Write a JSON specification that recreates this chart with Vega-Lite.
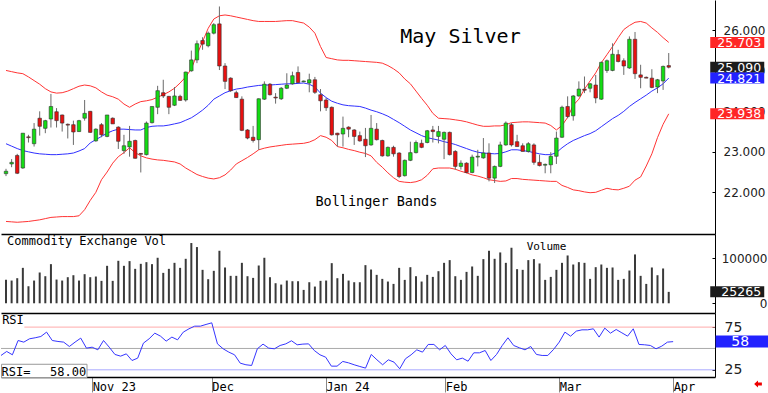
{
 "$schema": "https://vega.github.io/schema/vega-lite/v6.json",
 "padding": 0,
 "spacing": 0,
 "background": "white",
 "config": {"view": {"stroke": null}, "text": {"font": "DejaVu Sans Mono"}, "tick": {"opacity": 1}, "axis": {"labelFont": "DejaVu Sans", "grid": false, "title": null, "labelOverlap": false, "zindex": 0}},
 "datasets": {
  "d": [
{"i":0,"o":22.46,"h":22.58,"l":22.40,"c":22.52,"up":25.01,"mid":23.20,"lo":21.28,"vol":52000,"rsi":41.8},
{"i":1,"o":22.70,"h":22.82,"l":22.62,"c":22.74,"up":24.98,"mid":23.14,"lo":21.27,"vol":50300,"rsi":46.5},
{"i":2,"o":22.91,"h":22.95,"l":22.45,"c":22.47,"up":24.95,"mid":23.08,"lo":21.26,"vol":55500,"rsi":42.6},
{"i":3,"o":22.60,"h":23.46,"l":22.58,"c":23.46,"up":24.93,"mid":23.03,"lo":21.27,"vol":78400,"rsi":59.3},
{"i":4,"o":23.37,"h":23.42,"l":23.23,"c":23.35,"up":24.85,"mid":23.00,"lo":21.28,"vol":37700,"rsi":57.4},
{"i":5,"o":23.20,"h":23.71,"l":23.13,"c":23.56,"up":24.76,"mid":22.97,"lo":21.30,"vol":50300,"rsi":61.3},
{"i":6,"o":23.83,"h":24.00,"l":23.40,"c":23.63,"up":24.67,"mid":22.95,"lo":21.32,"vol":68100,"rsi":62.5},
{"i":7,"o":23.58,"h":23.79,"l":23.46,"c":23.77,"up":24.56,"mid":22.94,"lo":21.35,"vol":59900,"rsi":64.0},
{"i":8,"o":23.81,"h":24.43,"l":23.60,"c":24.12,"up":24.48,"mid":22.93,"lo":21.38,"vol":86600,"rsi":69.1},
{"i":9,"o":23.99,"h":24.08,"l":23.60,"c":23.77,"up":24.45,"mid":22.93,"lo":21.39,"vol":52500,"rsi":59.3},
{"i":10,"o":23.91,"h":23.92,"l":23.50,"c":23.71,"up":24.46,"mid":22.94,"lo":21.40,"vol":50300,"rsi":58.2},
{"i":11,"o":23.68,"h":23.70,"l":23.33,"c":23.66,"up":24.50,"mid":22.95,"lo":21.40,"vol":57700,"rsi":57.4},
{"i":12,"o":23.67,"h":23.77,"l":23.17,"c":23.49,"up":24.56,"mid":22.97,"lo":21.40,"vol":62100,"rsi":52.3},
{"i":13,"o":23.50,"h":23.79,"l":23.49,"c":23.77,"up":24.62,"mid":23.02,"lo":21.42,"vol":50300,"rsi":57.4},
{"i":14,"o":23.83,"h":24.28,"l":23.77,"c":23.95,"up":24.65,"mid":23.08,"lo":21.57,"vol":64400,"rsi":62.1},
{"i":15,"o":24.00,"h":24.01,"l":23.47,"c":23.48,"up":24.63,"mid":23.22,"lo":21.80,"vol":57700,"rsi":50.4},
{"i":16,"o":23.27,"h":23.58,"l":23.25,"c":23.56,"up":24.58,"mid":23.30,"lo":22.00,"vol":59200,"rsi":51.5},
{"i":17,"o":23.67,"h":23.71,"l":23.36,"c":23.42,"up":24.48,"mid":23.38,"lo":22.31,"vol":49600,"rsi":48.4},
{"i":18,"o":23.38,"h":23.91,"l":23.36,"c":23.91,"up":24.40,"mid":23.46,"lo":22.50,"vol":82900,"rsi":59.3},
{"i":19,"o":23.83,"h":23.85,"l":23.69,"c":23.69,"up":24.36,"mid":23.52,"lo":22.72,"vol":49600,"rsi":51.5},
{"i":20,"o":23.61,"h":23.63,"l":23.07,"c":23.26,"up":24.30,"mid":23.56,"lo":22.88,"vol":94000,"rsi":43.0},
{"i":21,"o":23.03,"h":23.42,"l":22.95,"c":23.15,"up":24.18,"mid":23.56,"lo":22.98,"vol":82900,"rsi":41.0},
{"i":22,"o":23.12,"h":23.64,"l":22.88,"c":23.26,"up":24.10,"mid":23.55,"lo":23.10,"vol":93300,"rsi":43.7},
{"i":23,"o":23.28,"h":23.30,"l":22.83,"c":22.84,"up":24.18,"mid":23.54,"lo":22.98,"vol":76200,"rsi":35.9},
{"i":24,"o":22.96,"h":22.97,"l":22.49,"c":22.94,"up":24.24,"mid":23.54,"lo":22.90,"vol":87300,"rsi":38.7},
{"i":25,"o":22.93,"h":23.75,"l":22.91,"c":23.71,"up":24.26,"mid":23.60,"lo":22.85,"vol":91000,"rsi":56.2},
{"i":26,"o":23.72,"h":24.12,"l":23.70,"c":24.12,"up":24.29,"mid":23.63,"lo":22.82,"vol":86600,"rsi":61.3},
{"i":27,"o":24.10,"h":24.63,"l":23.93,"c":24.51,"up":24.35,"mid":23.64,"lo":22.80,"vol":100700,"rsi":67.9},
{"i":28,"o":24.46,"h":24.78,"l":24.33,"c":24.38,"up":24.41,"mid":23.64,"lo":22.79,"vol":67300,"rsi":64.4},
{"i":29,"o":24.37,"h":24.38,"l":23.93,"c":24.10,"up":24.48,"mid":23.66,"lo":22.77,"vol":76200,"rsi":58.6},
{"i":30,"o":24.15,"h":24.60,"l":24.13,"c":24.38,"up":24.57,"mid":23.69,"lo":22.75,"vol":89500,"rsi":63.3},
{"i":31,"o":24.37,"h":24.41,"l":24.26,"c":24.27,"up":24.70,"mid":23.72,"lo":22.70,"vol":78400,"rsi":60.1},
{"i":32,"o":24.28,"h":24.98,"l":24.24,"c":24.97,"up":24.85,"mid":23.78,"lo":22.60,"vol":98400,"rsi":69.1},
{"i":33,"o":25.00,"h":25.50,"l":24.98,"c":25.27,"up":25.05,"mid":23.84,"lo":22.52,"vol":133300,"rsi":73.0},
{"i":34,"o":25.27,"h":25.75,"l":25.19,"c":25.67,"up":25.40,"mid":23.93,"lo":22.44,"vol":124400,"rsi":76.1},
{"i":35,"o":25.75,"h":25.83,"l":25.52,"c":25.66,"up":25.72,"mid":24.03,"lo":22.39,"vol":74000,"rsi":76.1},
{"i":36,"o":25.62,"h":25.97,"l":25.58,"c":25.93,"up":26.05,"mid":24.15,"lo":22.35,"vol":53300,"rsi":78.1},
{"i":37,"o":25.93,"h":26.18,"l":25.90,"c":26.14,"up":26.28,"mid":24.30,"lo":22.33,"vol":71800,"rsi":80.0},
{"i":38,"o":26.16,"h":26.59,"l":25.02,"c":25.12,"up":26.36,"mid":24.38,"lo":22.36,"vol":116200,"rsi":55.4},
{"i":39,"o":25.12,"h":25.19,"l":24.55,"c":24.74,"up":26.38,"mid":24.46,"lo":22.43,"vol":79200,"rsi":49.6},
{"i":40,"o":24.82,"h":24.84,"l":24.48,"c":24.51,"up":26.36,"mid":24.51,"lo":22.55,"vol":60700,"rsi":45.7},
{"i":41,"o":24.46,"h":24.51,"l":24.33,"c":24.34,"up":26.33,"mid":24.55,"lo":22.70,"vol":60700,"rsi":42.6},
{"i":42,"o":24.30,"h":24.37,"l":23.51,"c":23.53,"up":26.30,"mid":24.57,"lo":22.78,"vol":89500,"rsi":32.8},
{"i":43,"o":23.54,"h":23.56,"l":23.31,"c":23.34,"up":26.27,"mid":24.60,"lo":22.86,"vol":59900,"rsi":30.9},
{"i":44,"o":23.36,"h":23.64,"l":23.23,"c":23.28,"up":26.24,"mid":24.62,"lo":22.95,"vol":56200,"rsi":30.1},
{"i":45,"o":23.30,"h":24.32,"l":23.05,"c":24.31,"up":26.22,"mid":24.64,"lo":23.05,"vol":83600,"rsi":49.6},
{"i":46,"o":24.30,"h":24.74,"l":24.28,"c":24.67,"up":26.22,"mid":24.65,"lo":23.09,"vol":100700,"rsi":55.1},
{"i":47,"o":24.67,"h":24.70,"l":24.39,"c":24.41,"up":26.22,"mid":24.65,"lo":23.12,"vol":57700,"rsi":50.4},
{"i":48,"o":24.35,"h":24.45,"l":24.19,"c":24.33,"up":26.22,"mid":24.66,"lo":23.14,"vol":44400,"rsi":49.6},
{"i":49,"o":24.31,"h":24.60,"l":24.28,"c":24.57,"up":26.23,"mid":24.67,"lo":23.16,"vol":41400,"rsi":53.5},
{"i":50,"o":24.57,"h":24.94,"l":24.55,"c":24.65,"up":26.24,"mid":24.68,"lo":23.18,"vol":50300,"rsi":55.4},
{"i":51,"o":24.68,"h":24.98,"l":24.66,"c":24.88,"up":26.24,"mid":24.68,"lo":23.19,"vol":48800,"rsi":59.0},
{"i":52,"o":24.96,"h":25.11,"l":24.70,"c":24.71,"up":26.21,"mid":24.69,"lo":23.20,"vol":48800,"rsi":54.3},
{"i":53,"o":24.73,"h":24.76,"l":24.72,"c":24.75,"up":26.18,"mid":24.70,"lo":23.21,"vol":29600,"rsi":55.1},
{"i":54,"o":24.70,"h":24.93,"l":24.47,"c":24.78,"up":26.08,"mid":24.67,"lo":23.24,"vol":46600,"rsi":55.4},
{"i":55,"o":24.78,"h":24.85,"l":24.43,"c":24.47,"up":25.93,"mid":24.60,"lo":23.30,"vol":37000,"rsi":47.6},
{"i":56,"o":24.41,"h":24.55,"l":24.00,"c":24.26,"up":25.60,"mid":24.45,"lo":23.40,"vol":49600,"rsi":42.6},
{"i":57,"o":24.28,"h":24.33,"l":24.01,"c":24.09,"up":25.33,"mid":24.34,"lo":23.36,"vol":50300,"rsi":39.8},
{"i":58,"o":24.10,"h":24.12,"l":23.40,"c":23.42,"up":25.30,"mid":24.25,"lo":23.28,"vol":88800,"rsi":29.3},
{"i":59,"o":23.46,"h":23.47,"l":23.13,"c":23.42,"up":25.27,"mid":24.20,"lo":23.13,"vol":55500,"rsi":29.3},
{"i":60,"o":23.44,"h":23.87,"l":23.13,"c":23.58,"up":25.26,"mid":24.16,"lo":23.10,"vol":65100,"rsi":34.8},
{"i":61,"o":23.61,"h":23.63,"l":23.36,"c":23.56,"up":25.26,"mid":24.14,"lo":23.06,"vol":50300,"rsi":33.2},
{"i":62,"o":23.54,"h":23.56,"l":23.17,"c":23.38,"up":25.25,"mid":24.13,"lo":23.03,"vol":46600,"rsi":30.9},
{"i":63,"o":23.40,"h":23.50,"l":23.25,"c":23.27,"up":25.24,"mid":24.12,"lo":22.99,"vol":46600,"rsi":28.9},
{"i":64,"o":23.31,"h":23.59,"l":22.87,"c":23.15,"up":25.23,"mid":24.08,"lo":22.96,"vol":84400,"rsi":27.0},
{"i":65,"o":23.17,"h":23.91,"l":23.15,"c":23.58,"up":25.22,"mid":24.03,"lo":22.90,"vol":74700,"rsi":43.0},
{"i":66,"o":23.56,"h":23.71,"l":23.28,"c":23.30,"up":25.21,"mid":23.99,"lo":22.74,"vol":62900,"rsi":36.7},
{"i":67,"o":23.28,"h":23.30,"l":22.88,"c":22.90,"up":25.19,"mid":23.94,"lo":22.62,"vol":54000,"rsi":30.9},
{"i":68,"o":22.90,"h":23.13,"l":22.88,"c":23.11,"up":25.13,"mid":23.88,"lo":22.48,"vol":48100,"rsi":36.7},
{"i":69,"o":23.11,"h":23.15,"l":22.88,"c":22.95,"up":25.05,"mid":23.80,"lo":22.36,"vol":42900,"rsi":34.0},
{"i":70,"o":22.97,"h":22.99,"l":22.35,"c":22.39,"up":24.95,"mid":23.72,"lo":22.27,"vol":78400,"rsi":26.2},
{"i":71,"o":22.41,"h":22.81,"l":22.39,"c":22.79,"up":24.80,"mid":23.63,"lo":22.25,"vol":51800,"rsi":37.9},
{"i":72,"o":22.79,"h":23.25,"l":22.77,"c":22.98,"up":24.68,"mid":23.54,"lo":22.24,"vol":79900,"rsi":42.6},
{"i":73,"o":22.98,"h":23.28,"l":22.96,"c":23.23,"up":24.50,"mid":23.47,"lo":22.26,"vol":59900,"rsi":48.4},
{"i":74,"o":23.21,"h":23.30,"l":23.09,"c":23.11,"up":24.32,"mid":23.40,"lo":22.31,"vol":48100,"rsi":45.7},
{"i":75,"o":23.23,"h":23.54,"l":23.21,"c":23.52,"up":24.15,"mid":23.35,"lo":22.42,"vol":62900,"rsi":54.7},
{"i":76,"o":23.54,"h":23.64,"l":23.23,"c":23.50,"up":23.95,"mid":23.32,"lo":22.58,"vol":58400,"rsi":54.7},
{"i":77,"o":23.38,"h":23.64,"l":23.21,"c":23.50,"up":23.83,"mid":23.29,"lo":22.60,"vol":71000,"rsi":48.4},
{"i":78,"o":23.31,"h":23.50,"l":22.82,"c":23.48,"up":23.82,"mid":23.25,"lo":22.60,"vol":89500,"rsi":53.5},
{"i":79,"o":23.48,"h":23.50,"l":22.91,"c":22.93,"up":23.81,"mid":23.22,"lo":22.60,"vol":95500,"rsi":43.7},
{"i":80,"o":23.01,"h":23.04,"l":22.56,"c":22.64,"up":23.79,"mid":23.18,"lo":22.57,"vol":59900,"rsi":36.7},
{"i":81,"o":22.64,"h":22.79,"l":22.56,"c":22.72,"up":23.77,"mid":23.13,"lo":22.52,"vol":51800,"rsi":38.7},
{"i":82,"o":22.72,"h":22.74,"l":22.47,"c":22.49,"up":23.74,"mid":23.08,"lo":22.48,"vol":69500,"rsi":35.1},
{"i":83,"o":22.49,"h":22.93,"l":22.47,"c":22.87,"up":23.70,"mid":23.03,"lo":22.43,"vol":81400,"rsi":44.9},
{"i":84,"o":22.87,"h":23.05,"l":22.64,"c":22.89,"up":23.66,"mid":22.99,"lo":22.40,"vol":60700,"rsi":44.9},
{"i":85,"o":22.85,"h":23.34,"l":22.83,"c":22.97,"up":23.63,"mid":22.97,"lo":22.36,"vol":97700,"rsi":47.6},
{"i":86,"o":22.97,"h":23.21,"l":22.27,"c":22.35,"up":23.63,"mid":22.96,"lo":22.31,"vol":116200,"rsi":35.9},
{"i":87,"o":22.35,"h":22.66,"l":22.23,"c":22.64,"up":23.64,"mid":22.95,"lo":22.29,"vol":98400,"rsi":43.0},
{"i":88,"o":22.64,"h":23.25,"l":22.62,"c":23.17,"up":23.64,"mid":22.96,"lo":22.27,"vol":112500,"rsi":53.5},
{"i":89,"o":23.17,"h":23.75,"l":23.15,"c":23.71,"up":23.67,"mid":23.00,"lo":22.28,"vol":89500,"rsi":62.5},
{"i":90,"o":23.67,"h":23.71,"l":23.13,"c":23.17,"up":23.72,"mid":23.05,"lo":22.34,"vol":122900,"rsi":53.5},
{"i":91,"o":23.25,"h":23.42,"l":23.13,"c":23.13,"up":23.73,"mid":23.05,"lo":22.34,"vol":75500,"rsi":50.8},
{"i":92,"o":23.15,"h":23.21,"l":23.01,"c":23.01,"up":23.74,"mid":23.03,"lo":22.32,"vol":74000,"rsi":48.4},
{"i":93,"o":23.01,"h":23.24,"l":22.98,"c":23.20,"up":23.74,"mid":23.01,"lo":22.31,"vol":95500,"rsi":52.3},
{"i":94,"o":23.17,"h":23.21,"l":22.68,"c":22.74,"up":23.73,"mid":22.98,"lo":22.30,"vol":97700,"rsi":43.0},
{"i":95,"o":22.74,"h":22.93,"l":22.64,"c":22.66,"up":23.72,"mid":22.95,"lo":22.29,"vol":88100,"rsi":41.8},
{"i":96,"o":22.67,"h":22.71,"l":22.47,"c":22.69,"up":23.71,"mid":22.93,"lo":22.28,"vol":51800,"rsi":41.8},
{"i":97,"o":22.68,"h":22.99,"l":22.47,"c":22.89,"up":23.65,"mid":22.93,"lo":22.27,"vol":58400,"rsi":48.8},
{"i":98,"o":22.89,"h":23.50,"l":22.70,"c":23.34,"up":23.54,"mid":22.98,"lo":22.27,"vol":74000,"rsi":57.4},
{"i":99,"o":23.36,"h":24.14,"l":23.34,"c":24.10,"up":23.65,"mid":23.10,"lo":22.17,"vol":89500,"rsi":69.1},
{"i":100,"o":24.12,"h":24.37,"l":23.83,"c":23.87,"up":23.85,"mid":23.20,"lo":22.12,"vol":105800,"rsi":64.4},
{"i":101,"o":23.89,"h":24.40,"l":23.77,"c":24.38,"up":24.15,"mid":23.28,"lo":22.06,"vol":85800,"rsi":70.3},
{"i":102,"o":24.38,"h":24.74,"l":24.36,"c":24.55,"up":24.30,"mid":23.34,"lo":22.04,"vol":91000,"rsi":71.8},
{"i":103,"o":24.55,"h":24.86,"l":24.45,"c":24.52,"up":24.55,"mid":23.40,"lo":22.01,"vol":89500,"rsi":71.8},
{"i":104,"o":24.57,"h":24.70,"l":24.47,"c":24.68,"up":24.75,"mid":23.45,"lo":21.99,"vol":54000,"rsi":73.0},
{"i":105,"o":24.65,"h":24.90,"l":24.20,"c":24.33,"up":24.95,"mid":23.52,"lo":22.00,"vol":79900,"rsi":63.3},
{"i":106,"o":24.30,"h":25.23,"l":24.28,"c":25.21,"up":25.20,"mid":23.62,"lo":22.05,"vol":85800,"rsi":73.8},
{"i":107,"o":25.01,"h":25.28,"l":24.95,"c":25.25,"up":25.40,"mid":23.72,"lo":22.10,"vol":78400,"rsi":67.9},
{"i":108,"o":25.01,"h":25.68,"l":24.99,"c":25.41,"up":25.60,"mid":23.82,"lo":22.07,"vol":79200,"rsi":72.2},
{"i":109,"o":25.40,"h":25.52,"l":25.21,"c":25.23,"up":25.82,"mid":23.90,"lo":22.06,"vol":51800,"rsi":68.3},
{"i":110,"o":25.25,"h":25.31,"l":24.90,"c":25.12,"up":26.02,"mid":24.00,"lo":22.10,"vol":54000,"rsi":64.4},
{"i":111,"o":25.07,"h":25.85,"l":25.05,"c":25.78,"up":26.12,"mid":24.12,"lo":22.15,"vol":72500,"rsi":73.0},
{"i":112,"o":25.78,"h":25.96,"l":24.80,"c":24.93,"up":26.20,"mid":24.22,"lo":22.30,"vol":108100,"rsi":54.7},
{"i":113,"o":24.90,"h":25.15,"l":24.57,"c":24.84,"up":26.22,"mid":24.31,"lo":22.38,"vol":60700,"rsi":54.3},
{"i":114,"o":24.84,"h":24.86,"l":24.82,"c":24.82,"up":26.18,"mid":24.40,"lo":22.65,"vol":42900,"rsi":53.5},
{"i":115,"o":24.82,"h":25.04,"l":24.57,"c":24.59,"up":26.06,"mid":24.50,"lo":22.95,"vol":79200,"rsi":49.6},
{"i":116,"o":24.60,"h":24.80,"l":24.45,"c":24.78,"up":25.95,"mid":24.58,"lo":23.35,"vol":62100,"rsi":52.7},
{"i":117,"o":24.75,"h":25.13,"l":24.53,"c":25.11,"up":25.82,"mid":24.68,"lo":23.68,"vol":77000,"rsi":57.4},
{"i":118,"o":25.13,"h":25.44,"l":25.06,"c":25.09,"up":25.703,"mid":24.821,"lo":23.938,"vol":25265,"rsi":58.0}
  ],
  "pricetags": [
   {"kind": "upper", "v": 25.703},
   {"kind": "last", "v": 25.090},
   {"kind": "mid", "v": 24.821},
   {"kind": "lower", "v": 23.938}
  ]
 },
 "vconcat": [
  {
   "width": 714,
   "height": 234,
   "layer": [
    {"data": {"name": "d"},
     "mark": {"type": "line", "color": "#ff3434", "strokeWidth": 1, "clip": true},
     "encoding": {
      "x": {"field": "i", "type": "quantitative", "scale": {"domain": [0, 125.35], "nice": false, "zero": false},
            "axis": {"domain": true, "domainColor": "#000", "domainWidth": 1.5, "ticks": false, "labels": false}},
      "y": {"field": "up", "type": "quantitative", "scale": {"domain": [20.97, 26.75], "nice": false, "zero": false},
       "axis": {"orient": "right", "values": [22, 23, 24, 25, 26], "format": ".3f", "labelOverlap": false, "zindex": 0,
                "tickSize": -3, "tickColor": "#000", "domainColor": "#000", "domainWidth": 1,
                "labelFontSize": 12, "labelColor": "#222", "labelPadding": 11, "labelBaseline": "middle"}}}},
    {"data": {"name": "d"},
     "mark": {"type": "line", "color": "#ff3434", "strokeWidth": 1, "clip": true},
     "encoding": {"x": {"field": "i", "type": "quantitative"}, "y": {"field": "lo", "type": "quantitative"}}},
    {"data": {"name": "d"},
     "mark": {"type": "line", "color": "#3030ff", "strokeWidth": 1, "clip": true},
     "encoding": {"x": {"field": "i", "type": "quantitative"}, "y": {"field": "mid", "type": "quantitative"}}},
    {"data": {"name": "d"},
     "mark": {"type": "rule", "color": "#6a6a6a", "strokeWidth": 1, "clip": true},
     "encoding": {"x": {"field": "i", "type": "quantitative"}, "y": {"field": "l", "type": "quantitative"}, "y2": {"field": "h"}}},
    {"data": {"name": "d"},
     "mark": {"type": "bar", "size": 3.5, "stroke": "#303030", "strokeWidth": 0.6, "clip": true},
     "encoding": {"x": {"field": "i", "type": "quantitative"}, "y": {"field": "o", "type": "quantitative"}, "y2": {"field": "c"},
                  "color": {"condition": {"test": "datum.c >= datum.o", "value": "#14dc14"}, "value": "#e81010"}}},
    {"data": {"values": [{"t": "May Silver"}]},
     "mark": {"type": "text", "fontSize": 20, "align": "left", "baseline": "alphabetic", "color": "#000"},
     "encoding": {"text": {"field": "t", "type": "nominal"}, "x": {"datum": 70.2, "type": "quantitative"}, "y": {"datum": 25.7, "type": "quantitative"}}},
    {"data": {"values": [{"t": "Bollinger Bands"}]},
     "mark": {"type": "text", "fontSize": 13.5, "align": "left", "baseline": "alphabetic", "color": "#000"},
     "encoding": {"text": {"field": "t", "type": "nominal"}, "x": {"datum": 55.1, "type": "quantitative"}, "y": {"datum": 21.67, "type": "quantitative"}}},
    {"data": {"name": "pricetags"},
     "mark": {"type": "tick", "orient": "horizontal", "size": 54, "thickness": 11, "opacity": 1},
     "encoding": {"x": {"datum": 130.2, "type": "quantitative"}, "y": {"field": "v", "type": "quantitative"},
                  "color": {"field": "kind", "type": "nominal", "legend": null,
                            "scale": {"domain": ["upper", "last", "mid", "lower"], "range": ["#ff2626", "#1c1c1c", "#2222ff", "#ff2626"]}}}},
    {"data": {"name": "pricetags"},
     "mark": {"type": "text", "font": "DejaVu Sans", "fontSize": 12.5, "align": "right", "baseline": "middle", "color": "#ffffff", "dy": 0.5},
     "encoding": {"x": {"datum": 134.45, "type": "quantitative"}, "y": {"field": "v", "type": "quantitative"}, "text": {"field": "v", "type": "quantitative", "format": ".3f"}}}
   ]
  },
  {
   "width": 714,
   "height": 79,
   "layer": [
    {"data": {"name": "d"},
     "mark": {"type": "bar", "size": 2, "color": "#3a3a3a", "clip": true},
     "encoding": {
      "x": {"field": "i", "type": "quantitative", "scale": {"domain": [0, 125.35], "nice": false, "zero": false},
            "axis": {"domain": true, "domainColor": "#000", "domainWidth": 1.5, "ticks": false, "labels": false}},
      "y": {"field": "vol", "type": "quantitative", "scale": {"domain": [-21500, 153300], "nice": false, "zero": false},
       "axis": {"orient": "right", "values": [0, 50000, 100000], "format": "d", "labelOverlap": false, "zindex": 0,
                "tickSize": -3, "tickColor": "#000", "domainColor": "#000", "domainWidth": 1,
                "labelFontSize": 12, "labelColor": "#222", "labelAlign": "right", "labelPadding": 55, "labelBaseline": "middle"}},
      "y2": {"datum": 0}}},
    {"data": {"values": [{"t": "Commodity Exchange Vol"}]},
     "mark": {"type": "text", "fontSize": 12, "align": "left", "baseline": "alphabetic", "color": "#000"},
     "encoding": {"text": {"field": "t", "type": "nominal"}, "x": {"datum": 0.2, "type": "quantitative"}, "y": {"datum": 128900, "type": "quantitative"}}},
    {"data": {"values": [{"t": "Volume"}]},
     "mark": {"type": "text", "fontSize": 11, "align": "left", "baseline": "alphabetic", "color": "#000"},
     "encoding": {"text": {"field": "t", "type": "nominal"}, "x": {"datum": 92.7, "type": "quantitative"}, "y": {"datum": 118400, "type": "quantitative"}}},
    {"data": {"values": [{"v": 25265}]},
     "mark": {"type": "tick", "orient": "horizontal", "size": 54, "thickness": 11, "color": "#1c1c1c", "opacity": 1},
     "encoding": {"x": {"datum": 130.2, "type": "quantitative"}, "y": {"field": "v", "type": "quantitative"}}},
    {"data": {"values": [{"v": 25265}]},
     "mark": {"type": "text", "font": "DejaVu Sans", "fontSize": 12.5, "align": "right", "baseline": "middle", "color": "#ffffff", "dy": 0.5},
     "encoding": {"x": {"datum": 134.45, "type": "quantitative"}, "y": {"field": "v", "type": "quantitative"}, "text": {"field": "v", "type": "quantitative", "format": "d"}}}
   ]
  },
  {
   "width": 714,
   "height": 64,
   "layer": [
    {"data": {"values": [{"lvl": 75}]},
     "mark": {"type": "rule", "color": "#ffaaaa", "strokeWidth": 1},
     "encoding": {
      "x": {"datum": 4.1, "type": "quantitative", "scale": {"domain": [0, 125.35], "nice": false, "zero": false},
            "axis": {"domain": true, "domainColor": "#000", "domainWidth": 1.5, "values": [16, 37, 57, 78, 98, 118],
                     "labelExpr": "datum.value == 16 ? 'Nov 23' : datum.value == 37 ? 'Dec' : datum.value == 57 ? 'Jan 24' : datum.value == 78 ? 'Feb' : datum.value == 98 ? 'Mar' : 'Apr'",
                     "tickColor": "#888", "tickSize": 15, "tickWidth": 1, "labelAlign": "left", "labelDx": 1,
                     "labelBaseline": "top", "labelPadding": -11, "labelFont": "DejaVu Sans Mono", "labelFontSize": 12,
                     "labelColor": "#000", "labelFlush": false, "labelOverlap": false}},
      "x2": {"datum": 125.35},
      "y": {"field": "lvl", "type": "quantitative", "scale": {"domain": [16.6, 91.5], "nice": false, "zero": false},
       "axis": {"orient": "right", "values": [25, 50, 75], "format": "d", "labelOverlap": false, "zindex": 0,
                "tickSize": -3, "tickColor": "#000", "domainColor": "#000", "domainWidth": 1,
                "labelFontSize": 14, "labelColor": "#222", "labelPadding": 12, "labelBaseline": "middle"}}}},
    {"data": {"values": [{"lvl": 50}]},
     "mark": {"type": "rule", "color": "#aaaaaa", "strokeWidth": 1},
     "encoding": {"x": {"datum": 0, "type": "quantitative"}, "x2": {"datum": 125.35}, "y": {"field": "lvl", "type": "quantitative"}}},
    {"data": {"values": [{"lvl": 25}]},
     "mark": {"type": "rule", "color": "#aaaaff", "strokeWidth": 1},
     "encoding": {"x": {"datum": 0, "type": "quantitative"}, "x2": {"datum": 125.35}, "y": {"field": "lvl", "type": "quantitative"}}},
    {"data": {"name": "d"},
     "mark": {"type": "line", "color": "#3535ff", "strokeWidth": 1, "clip": true},
     "encoding": {"x": {"field": "i", "type": "quantitative"}, "y": {"field": "rsi", "type": "quantitative"}}},
    {"data": {"values": [{"t": "RSI"}]},
     "mark": {"type": "text", "fontSize": 12, "align": "left", "baseline": "alphabetic", "color": "#000"},
     "encoding": {"text": {"field": "t", "type": "nominal"}, "x": {"datum": 0.2, "type": "quantitative"}, "y": {"datum": 78.9, "type": "quantitative"}}},
    {"data": {"values": [{"t": "box"}]},
     "mark": {"type": "rect", "fill": "#ffffff", "stroke": "#999999", "strokeWidth": 1},
     "encoding": {"x": {"datum": 0.1, "type": "quantitative"}, "x2": {"datum": 15.1}, "y": {"datum": 31.5, "type": "quantitative"}, "y2": {"datum": 16.0}}},
    {"data": {"values": [{"t": "RSI="}]},
     "mark": {"type": "text", "fontSize": 12, "align": "left", "baseline": "alphabetic", "color": "#000"},
     "encoding": {"text": {"field": "t", "type": "nominal"}, "x": {"datum": 0.1, "type": "quantitative"}, "y": {"datum": 18.3, "type": "quantitative"}}},
    {"data": {"values": [{"v": 58}]},
     "mark": {"type": "text", "fontSize": 12, "align": "right", "baseline": "alphabetic", "color": "#000"},
     "encoding": {"text": {"field": "v", "type": "quantitative", "format": ".2f"}, "x": {"datum": 14.95, "type": "quantitative"}, "y": {"datum": 18.3, "type": "quantitative"}}},
    {"data": {"values": [{"v": 58}]},
     "mark": {"type": "tick", "orient": "horizontal", "size": 54, "thickness": 12, "color": "#2222ff", "opacity": 1},
     "encoding": {"x": {"datum": 130.2, "type": "quantitative"}, "y": {"field": "v", "type": "quantitative"}}},
    {"data": {"values": [{"v": 58}]},
     "mark": {"type": "text", "font": "DejaVu Sans", "fontSize": 14, "align": "left", "baseline": "middle", "color": "#ffffff", "dy": 0.5},
     "encoding": {"x": {"datum": 128.2, "type": "quantitative"}, "y": {"field": "v", "type": "quantitative"}, "text": {"field": "v", "type": "quantitative", "format": "d"}}},
    {"data": {"values": [{"t": "arrow"}]},
     "mark": {"type": "point", "shape": "M -1 0 L 0 -0.9 L 0 -0.4 L 1 -0.4 L 1 0.4 L 0 0.4 L 0 0.9 Z", "filled": true, "color": "#ee0000", "size": 60, "opacity": 1},
     "encoding": {"x": {"datum": 132.9, "type": "quantitative"}, "y": {"datum": 8.4, "type": "quantitative"}}}
   ]
  }
 ]
}
